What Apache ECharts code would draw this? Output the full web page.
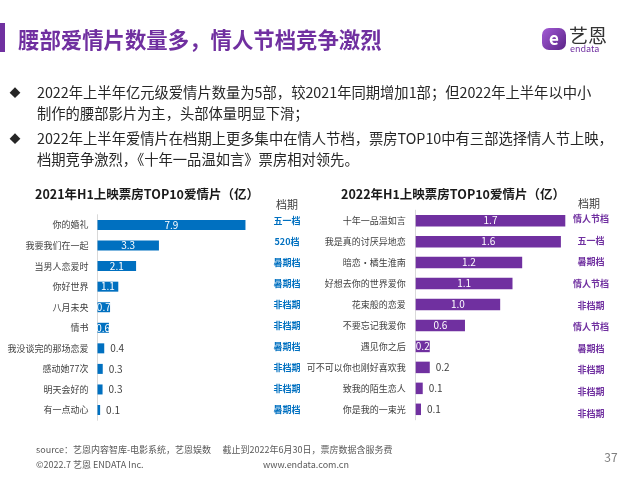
<!DOCTYPE html>
<html><head><meta charset="utf-8">
<script src="https://cdn.jsdelivr.net/npm/echarts@6/dist/echarts.min.js"></script>
<style>html,body{margin:0;padding:0;background:#fff}#c{width:640px;height:480px}</style>
</head><body><div id="c"></div>
<script>
// ---- data ----
const leftFilms = ['你的婚礼','我要我们在一起','当男人恋爱时','你好世界','八月未央','情书','我没谈完的那场恋爱','感动她77次','明天会好的','有一点动心'];
const leftBoxOffice = [7.9, 3.28, 2.06, 1.11, 0.67, 0.61, 0.36, 0.28, 0.27, 0.14];
const leftPeriods = ['五一档','520档','暑期档','暑期档','非档期','非档期','暑期档','非档期','非档期','暑期档'];
const rightFilms = ['十年一品温如言','我是真的讨厌异地恋','暗恋·橘生淮南','好想去你的世界爱你','花束般的恋爱','不要忘记我爱你','遇见你之后','可不可以你也刚好喜欢我','致我的陌生恋人','你是我的一束光'];
const rightBoxOffice = [1.70, 1.65, 1.21, 1.10, 0.96, 0.56, 0.16, 0.16, 0.08, 0.06];
const rightPeriods = ['情人节档','五一档','暑期档','情人节档','非档期','情人节档','暑期档','非档期','非档期','非档期'];
const leftTitle = '2021年H1上映票房TOP10爱情片（亿）';
const rightTitle = '2022年H1上映票房TOP10爱情片（亿）';
const pageTitle = '腰部爱情片数量多，情人节档竞争激烈';
const bulletLines = [
  '2022年上半年亿元级爱情片数量为5部，较2021年同期增加1部；但2022年上半年以中小',
  '制作的腰部影片为主，头部体量明显下滑；',
  '2022年上半年爱情片在档期上更多集中在情人节档，票房TOP10中有三部选择情人节上映，',
  '档期竞争激烈，《十年一品温如言》票房相对领先。'
];

// ---- styling ----
const FONT = '"Noto Sans CJK SC", "Noto Sans", sans-serif';
const BLUE = '#0070c0', PURPLE = '#7030a0';
const leftInsideCount = 6, rightInsideCount = 7;

function barData(vals, insideCount) {
  return vals.map((v, i) => ({
    value: v,
    label: i < insideCount
      ? { position: 'inside', color: '#fff' }
      : { position: 'right', color: '#404040', distance: 6 }
  }));
}

function txt(text, x, y, o) {
  o = o || {};
  return {
    type: 'text', silent: true,
    style: {
      text: text, x: x, y: y,
      fill: o.fill || '#262626',
      fontSize: o.size || 12,
      fontWeight: o.weight || 'normal',
      fontFamily: FONT,
      align: o.align || 'left', textAlign: o.align || 'left',
      verticalAlign: 'middle', textVerticalAlign: 'middle'
    }
  };
}

const graphics = [
  { type: 'rect', shape: { x: 0, y: 23, width: 5, height: 29 }, style: { fill: PURPLE } },
  txt(pageTitle, 18, 40, { size: 21.4, weight: 'bold', fill: PURPLE }),
  // logo
  { type: 'rect', shape: { x: 542, y: 28, width: 24, height: 22, r: 7 },
    style: { fill: new echarts.graphic.LinearGradient(0, 0, 1, 1, [{ offset: 0, color: '#a35bd6' }, { offset: 1, color: '#5a2386' }]) } },
  txt('e', 554, 38.5, { size: 17, weight: 'bold', fill: '#fff', align: 'center' }),
  txt('艺恩', 569, 35.5, { size: 19, fill: '#333' }),
  txt('endata', 570, 49, { size: 9, fill: PURPLE }),
  // bullets
  txt('◆', 15, 93, { size: 11, align: 'center' }),
  txt('◆', 15, 139, { size: 11, align: 'center' }),
  txt(bulletLines[0], 37, 93, { size: 14.3 }),
  txt(bulletLines[1], 37, 114, { size: 14.3 }),
  txt(bulletLines[2], 37, 139, { size: 14.3 }),
  txt(bulletLines[3], 37, 160, { size: 14.3 }),
  // chart titles
  txt(leftTitle, 147, 194, { size: 12.5, weight: 'bold', fill: '#1a1a1a', align: 'center' }),
  txt(rightTitle, 453, 194, { size: 12.5, weight: 'bold', fill: '#1a1a1a', align: 'center' }),
  txt('档期', 287, 205, { size: 11, fill: '#404040', align: 'center' }),
  txt('档期', 589, 204, { size: 11, fill: '#404040', align: 'center' }),
  // footer
  txt('source：艺恩内容智库-电影系统，艺恩娱数', 36, 450, { size: 9, fill: '#595959' }),
  txt('截止到2022年6月30日，票房数据含服务费', 222.5, 450, { size: 9, fill: '#595959' }),
  txt('©2022.7 艺恩 ENDATA Inc.', 36, 465, { size: 9, fill: '#595959' }),
  txt('www.endata.com.cn', 263, 465, { size: 9, fill: '#595959' }),
  txt('37', 611, 457, { size: 12, fill: '#7f7f7f', align: 'center' })
];

const catLabel = { fontSize: 9, color: '#404040', fontFamily: FONT };
const valLabel = { show: true, fontSize: 10, fontFamily: FONT, formatter: p => p.value.toFixed(1) };

const option = {
  backgroundColor: '#fff',
  animation: false,
  graphic: graphics,
  grid: [
    { left: 97.5, top: 214.7, width: 187.3, height: 205.6, outerBoundsMode: 'none' },
    { left: 415.7, top: 210.2, width: 176, height: 209.6, outerBoundsMode: 'none' },
    { left: 287, top: 210.2, width: 1, height: 209.6, outerBoundsMode: 'none' },
    { left: 591, top: 207.9, width: 1, height: 216.2, outerBoundsMode: 'none' }
  ],
  xAxis: [
    { gridIndex: 0, type: 'value', min: 0, max: 10, show: false },
    { gridIndex: 1, type: 'value', min: 0, max: 2, show: false },
    { gridIndex: 2, type: 'value', min: 0, max: 1, show: false },
    { gridIndex: 3, type: 'value', min: 0, max: 1, show: false }
  ],
  yAxis: [
    { gridIndex: 0, type: 'category', data: leftFilms, inverse: true,
      axisLine: { show: true, lineStyle: { color: '#d9d9d9' } }, axisTick: { show: false },
      axisLabel: Object.assign({ margin: 9, interval: 0 }, catLabel) },
    { gridIndex: 1, type: 'category', data: rightFilms, inverse: true,
      axisLine: { show: true, lineStyle: { color: '#d9d9d9' } }, axisTick: { show: false },
      axisLabel: Object.assign({ margin: 10, interval: 0 }, catLabel) },
    { gridIndex: 2, type: 'category', data: leftPeriods, inverse: true,
      axisLine: { show: false }, axisTick: { show: false },
      axisLabel: { margin: 0, align: 'center', interval: 0, fontSize: 9, fontWeight: 'bold', color: BLUE, fontFamily: FONT } },
    { gridIndex: 3, type: 'category', data: rightPeriods, inverse: true,
      axisLine: { show: false }, axisTick: { show: false },
      axisLabel: { margin: 0, align: 'center', interval: 0, fontSize: 9, fontWeight: 'bold', color: PURPLE, fontFamily: FONT } }
  ],
  series: [
    { type: 'bar', xAxisIndex: 0, yAxisIndex: 0, barWidth: 10, itemStyle: { color: BLUE },
      label: valLabel, data: barData(leftBoxOffice, leftInsideCount) },
    { type: 'bar', xAxisIndex: 1, yAxisIndex: 1, barWidth: 11.5, itemStyle: { color: PURPLE },
      label: valLabel, data: barData(rightBoxOffice, rightInsideCount) }
  ]
};

const chart = echarts.init(document.getElementById('c'), null, { renderer: 'canvas' });
chart.setOption(option);
</script>
</body></html>
